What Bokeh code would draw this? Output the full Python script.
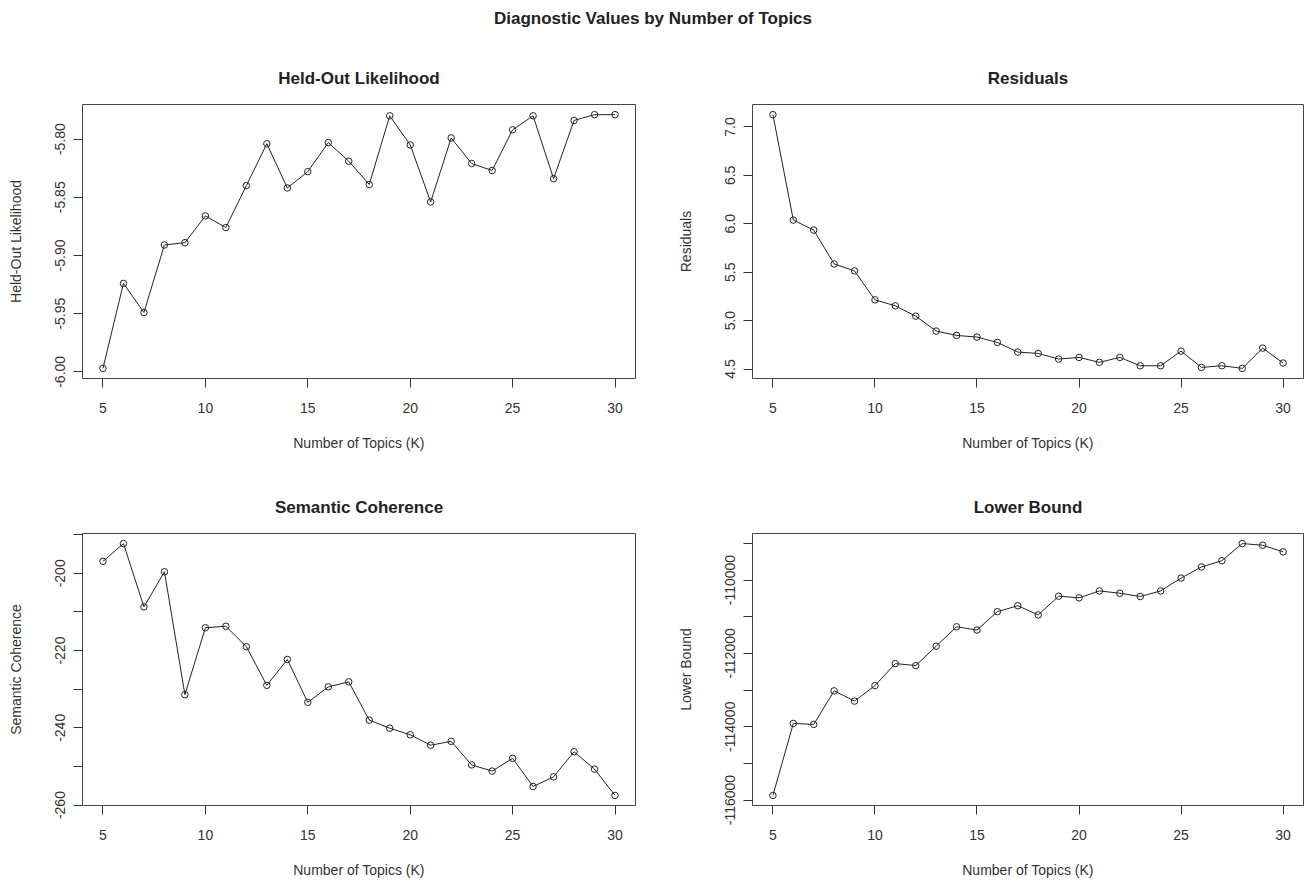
from bokeh.plotting import figure
from bokeh.models import Range1d, FixedTicker, NumeralTickFormatter
from bokeh.layouts import column, row
from bokeh.embed import file_html
from bokeh.resources import INLINE
from bokeh.core.properties import value

# ---------------- data ----------------
K = list(range(5, 31))
x_ticks = [5, 10, 15, 20, 25, 30]

heldout = [-5.997, -5.924, -5.949, -5.891, -5.889, -5.866, -5.876, -5.840, -5.804, -5.842,
           -5.828, -5.803, -5.819, -5.839, -5.780, -5.805, -5.854, -5.799, -5.821, -5.827,
           -5.792, -5.780, -5.834, -5.784, -5.779, -5.779]
heldout_ticks = [-6.00, -5.95, -5.90, -5.85, -5.80]

residuals = [7.127, 6.038, 5.935, 5.585, 5.513, 5.214, 5.153, 5.046, 4.892, 4.847,
             4.830, 4.775, 4.675, 4.661, 4.603, 4.620, 4.569, 4.620, 4.534, 4.534,
             4.685, 4.517, 4.534, 4.507, 4.716, 4.562]
residual_ticks = [4.5, 5.0, 5.5, 6.0, 6.5, 7.0]

semcoh = [-196.9, -192.3, -208.7, -199.6, -231.4, -214.1, -213.7, -219.0, -229.0, -222.3,
          -233.4, -229.4, -228.1, -238.0, -240.1, -241.8, -244.5, -243.5, -249.6, -251.2,
          -247.9, -255.2, -252.7, -246.2, -250.7, -257.5]
semcoh_ticks = [-260, -240, -220, -200]
semcoh_minor = [-250, -230, -210, -190]

lbound = [-115874, -113910, -113937, -113022, -113300, -112879, -112278, -112332, -111803, -111274,
          -111363, -110861, -110700, -110951, -110439, -110484, -110296, -110359, -110448, -110296,
          -109946, -109641, -109471, -109004, -109049, -109229]
lbound_ticks = [-116000, -114000, -112000, -110000]
lbound_minor = [-115000, -113000, -111000, -109000]

main_title = "Diagnostic Values by Number of Topics"
x_label = "Number of Topics (K)"

FONT = "Liberation Sans"
INK = "#222222"


def padded(vals):
    lo, hi = min(vals), max(vals)
    d = (hi - lo) * 0.04
    return Range1d(lo - d, hi + d)


def panel(title, ylabel, y, ticks, minor, fmt, width, left, right, top, fh, bottom):
    p = figure(width=width, height=top + fh + bottom,
               x_range=Range1d(4, 31), y_range=padded(y),
               output_backend="svg", toolbar_location=None,
               min_border_left=left, min_border_right=right,
               min_border_top=top, min_border_bottom=bottom)
    p.background_fill_color = "white"
    p.border_fill_color = "white"
    p.outline_line_color = "#444444"
    p.outline_line_width = 1
    p.xgrid.visible = False
    p.ygrid.visible = False

    p.title.text = title
    p.title.align = "center"
    p.title.text_font = FONT
    p.title.text_font_size = "17px"
    p.title.text_font_style = "bold"
    p.title.text_color = INK
    p.title.standoff = 33

    p.line(K, y, line_color=INK, line_width=1)
    p.scatter(K, y, marker="circle", size=6.5, fill_color=None, line_color=INK, line_width=1)

    for ax in (p.xaxis[0], p.yaxis[0]):
        ax.axis_line_color = None
        ax.major_tick_out = 9
        ax.major_tick_in = 0
        ax.major_tick_line_color = "#333333"
        ax.minor_tick_out = 9
        ax.minor_tick_in = 0
        ax.minor_tick_line_color = "#333333"
        ax.major_label_text_font = FONT
        ax.major_label_text_font_size = "14px"
        ax.major_label_text_color = "#333333"
        ax.axis_label_text_font = FONT
        ax.axis_label_text_font_size = "14px"
        ax.axis_label_text_font_style = "normal"
        ax.axis_label_text_color = "#333333"

    p.xaxis.ticker = FixedTicker(ticks=x_ticks, minor_ticks=[])
    p.xaxis.axis_label = x_label
    p.xaxis.major_label_standoff = 15
    p.xaxis.axis_label_standoff = 19

    p.yaxis.ticker = FixedTicker(ticks=ticks, minor_ticks=minor)
    p.yaxis.formatter = NumeralTickFormatter(format=fmt)
    p.yaxis.major_label_orientation = "vertical"
    p.yaxis.axis_label = ylabel
    p.yaxis.major_label_standoff = 8
    p.yaxis.axis_label_standoff = 29
    return p


# left column frame x 82-635, right column frame x 752-1303
tl = panel("Held-Out Likelihood", "Held-Out Likelihood", heldout, heldout_ticks, [], "0.00",
           650, 82, 15, 56, 274, 84)
tr = panel("Residuals", "Residuals", residuals, residual_ticks, [], "0.0",
           655, 102, 2, 56, 274, 84)
bl = panel("Semantic Coherence", "Semantic Coherence", semcoh, semcoh_ticks, semcoh_minor, "0",
           650, 82, 15, 71, 276, 71)
br = panel("Lower Bound", "Lower Bound", lbound, lbound_ticks, lbound_minor, "0",
           655, 102, 2, 71, 276, 71)

header = figure(width=1305, height=48, x_range=Range1d(0, 1), y_range=Range1d(0, 1),
                output_backend="svg", toolbar_location=None,
                x_axis_type=None, y_axis_type=None,
                min_border_left=0, min_border_right=0, min_border_top=0, min_border_bottom=0)
header.outline_line_color = None
header.xgrid.visible = False
header.ygrid.visible = False
header.text(x=[0.5], y=[1 - 18 / 48], text=[main_title], text_align="center", text_baseline="middle",
            text_font=value(FONT), text_font_size="17px", text_font_style="bold", text_color=INK)

layout = column(header, row(tl, tr), row(bl, br))

open("out.html", "w").write(file_html(layout, INLINE))
